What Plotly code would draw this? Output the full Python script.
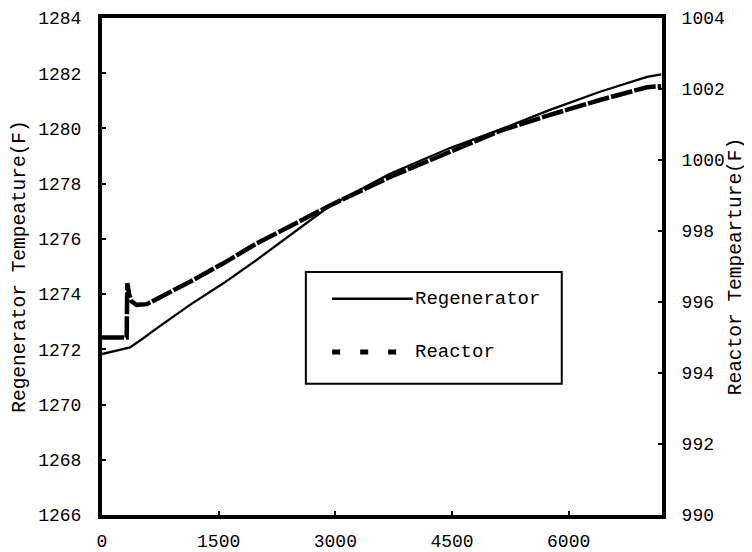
import plotly.graph_objects as go

# ---- data ----
regen_time = [0, 360, 531, 703, 1131, 1560, 1989, 2374, 2931, 3703, 4474, 5117, 5760, 6403, 7007, 7190]
regen_temp = [1271.83, 1272.07, 1272.40, 1272.76, 1273.61, 1274.39, 1275.24, 1276.05, 1277.20,
              1278.36, 1279.29, 1279.96, 1280.67, 1281.33, 1281.87, 1281.96]

reactor_time = [0, 317, 325, 351, 382, 446, 575, 703, 1131, 1560, 1989, 2246, 2931, 3703, 4474,
                5117, 5760, 6403, 7007, 7190]
reactor_temp = [995.0, 995.0, 996.53, 996.20, 996.01, 995.92, 995.94, 996.08, 996.57, 997.09,
                997.65, 997.94, 998.72, 999.52, 1000.23, 1000.82, 1001.27, 1001.69, 1002.05, 1002.08]

x_ticks = [0, 1500, 3000, 4500, 6000]
left_ticks = [1266, 1268, 1270, 1272, 1274, 1276, 1278, 1280, 1282, 1284]
right_ticks = [990, 992, 994, 996, 998, 1000, 1002, 1004]

series_names = ["Regenerator", "Reactor"]
left_title = "Regenerator Tempeature(F)"
right_title = "Reactor Tempearture(F)"

FONT = "Liberation Mono, Courier New, monospace"

fig = go.Figure()
fig.add_trace(go.Scatter(x=regen_time, y=regen_temp, mode="lines", name=series_names[0],
                         line=dict(color="black", width=2.3), yaxis="y", showlegend=False))
fig.add_trace(go.Scatter(x=reactor_time, y=reactor_temp, mode="lines", name=series_names[1],
                         line=dict(color="black", width=4.5, dash="22px,2px"), yaxis="y2",
                         showlegend=False))

axis_common = dict(showgrid=False, zeroline=False, showline=True, linecolor="black",
                   linewidth=4, ticks="inside", ticklen=4, tickwidth=1.5, tickcolor="black",
                   automargin=False,
                   tickfont=dict(family=FONT, size=18, color="black"))

# the page body has an 8px margin, so the figure is made 8px smaller and margins shifted
fig.update_layout(
    width=744, height=544,
    margin=dict(l=94, r=90, t=10, b=37),
    paper_bgcolor="white", plot_bgcolor="white",
    xaxis=dict(range=[0, 7200], tickvals=x_ticks, mirror=True, ticklabelstandoff=6,
               **axis_common),
    yaxis=dict(range=[1266, 1284], tickvals=left_ticks, ticklabelstandoff=13,
               title=dict(text=left_title, font=dict(family=FONT, size=19.5, color="black"),
                          standoff=8),
               **axis_common),
    yaxis2=dict(range=[990, 1004], tickvals=right_ticks, overlaying="y", side="right",
                ticklabelstandoff=12,
                title=dict(text=right_title, font=dict(family=FONT, size=19.5, color="black"),
                           standoff=5),
                **axis_common),
    showlegend=False,
)

# ---- hand-drawn legend box (paper coordinates) ----
fig.add_shape(type="rect", xref="paper", yref="paper", x0=0.364, x1=0.821, y0=0.264, y1=0.489,
              line=dict(color="black", width=2), fillcolor="white", layer="above")
fig.add_shape(type="line", xref="paper", yref="paper", x0=0.411, x1=0.555, y0=0.435, y1=0.435,
              line=dict(color="black", width=2.5))
fig.add_shape(type="line", xref="paper", yref="paper", x0=0.411, x1=0.529, y0=0.328, y1=0.328,
              line=dict(color="black", width=5, dash="8px,20px"))
fig.add_annotation(xref="paper", yref="paper", x=0.555, y=0.435, xanchor="left", yanchor="middle",
                   text=series_names[0], showarrow=False,
                   font=dict(family=FONT, size=19, color="black"))
fig.add_annotation(xref="paper", yref="paper", x=0.555, y=0.328, xanchor="left", yanchor="middle",
                   text=series_names[1], showarrow=False,
                   font=dict(family=FONT, size=19, color="black"))

fig.write_html("out.html")
